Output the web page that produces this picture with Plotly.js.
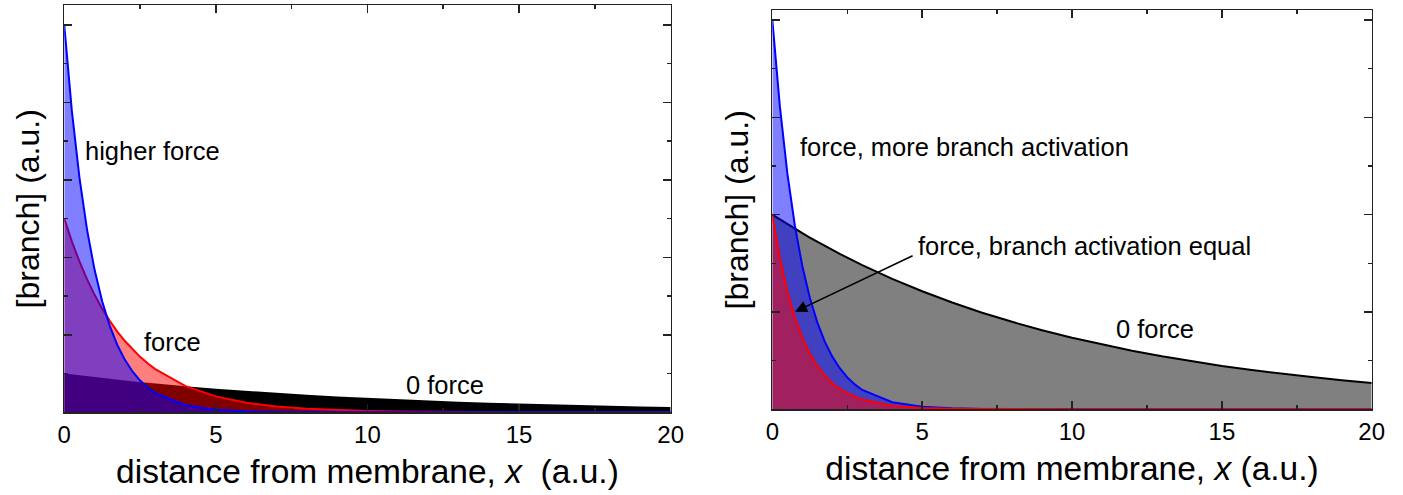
<!DOCTYPE html>
<html>
<head>
<meta charset="utf-8">
<script src="https://cdn.plot.ly/plotly-3.0.1.min.js"></script>
<style>
  html, body { margin: 0; padding: 0; background: #fff; }
  #chart { width: 1403px; height: 495px; }
</style>
</head>
<body>
<div id="chart"></div>
<script>
// distance from the membrane (a.u.)
const distance = [0, 0.25, 0.5, 0.75, 1, 1.25, 1.5, 1.75, 2, 2.25, 2.5, 2.75, 3,
                  4, 5, 6, 7, 8, 9, 10, 11, 12, 13, 14, 15, 16, 17, 18, 19, 20];

// left panel: branch density profiles
const leftZeroForce = [0.5, 0.488, 0.476, 0.464, 0.452, 0.441, 0.430, 0.420, 0.409, 0.399, 0.389, 0.380, 0.370,
                       0.335, 0.303, 0.274, 0.248, 0.225, 0.203, 0.184, 0.166, 0.151, 0.136, 0.123, 0.112,
                       0.101, 0.091, 0.083, 0.075, 0.068];
const leftForce = [2.5, 2.206, 1.947, 1.718, 1.516, 1.338, 1.181, 1.042, 0.920, 0.812, 0.716, 0.632, 0.558,
                   0.338, 0.205, 0.124, 0.075, 0.046, 0.028, 0.017, 0.010, 0.006, 0.004, 0.002, 0.001,
                   0.001, 0, 0, 0, 0];
const leftHigherForce = [5, 3.894, 3.033, 2.362, 1.839, 1.433, 1.116, 0.869, 0.677, 0.527, 0.410, 0.320, 0.249,
                         0.092, 0.034, 0.012, 0.005, 0.002, 0.001, 0, 0, 0, 0, 0, 0,
                         0, 0, 0, 0, 0];

// right panel: branch density profiles
const rightZeroForce = [2, 1.951, 1.902, 1.855, 1.810, 1.765, 1.721, 1.679, 1.637, 1.597, 1.558, 1.519, 1.482,
                        1.341, 1.213, 1.098, 0.993, 0.899, 0.813, 0.736, 0.666, 0.602, 0.545, 0.493, 0.446,
                        0.404, 0.365, 0.331, 0.299, 0.271];
const rightMoreActivation = [4, 3.115, 2.426, 1.889, 1.472, 1.146, 0.893, 0.695, 0.541, 0.422, 0.328, 0.256, 0.199,
                             0.073, 0.027, 0.010, 0.004, 0.001, 0, 0, 0, 0, 0, 0, 0,
                             0, 0, 0, 0, 0];
const rightEqualActivation = [2, 1.558, 1.213, 0.945, 0.736, 0.573, 0.446, 0.348, 0.271, 0.211, 0.164, 0.128, 0.100,
                              0.037, 0.013, 0.005, 0.002, 0.001, 0, 0, 0, 0, 0, 0, 0,
                              0, 0, 0, 0, 0];

const xTickVals = [0, 5, 10, 15, 20];
const xTickText = ['0', '5', '10', '15', '20'];

const FONT = 'Liberation Sans, Arial, Helvetica, sans-serif';
const AXIS_COLOR = '#222';

function area(x, y, xa, ya, fill, lineColor, lineWidth) {
  return {
    type: 'scatter', mode: 'lines', x: x, y: y, xaxis: xa, yaxis: ya,
    fill: 'tozeroy', fillcolor: fill,
    line: { color: lineColor, width: lineWidth, shape: 'linear' },
    hoverinfo: 'skip', showlegend: false
  };
}

const traces = [
  area(distance, leftZeroForce, 'x', 'y', 'rgb(0,0,0)', 'rgb(0,0,0)', 0),
  area(distance, leftForce, 'x', 'y', 'rgba(255,0,0,0.5)', 'rgb(255,0,0)', 2),
  area(distance, leftHigherForce, 'x', 'y', 'rgba(0,0,255,0.5)', 'rgb(0,0,255)', 2),
  area(distance, rightZeroForce, 'x2', 'y2', 'rgb(128,128,128)', 'rgb(0,0,0)', 2),
  area(distance, rightMoreActivation, 'x2', 'y2', 'rgba(0,0,255,0.5)', 'rgb(0,0,255)', 2),
  area(distance, rightEqualActivation, 'x2', 'y2', 'rgba(255,0,0,0.5)', 'rgb(255,0,0)', 2)
];

function xAxis(domain, anchor, titleText) {
  return {
    domain: domain, anchor: anchor, range: [0, 20],
    tickmode: 'array', tickvals: xTickVals, ticktext: xTickText,
    ticks: 'inside', ticklen: 8, tickwidth: 1.5, tickcolor: AXIS_COLOR,
    minor: { tickmode: 'linear', tick0: 0, dtick: 2.5, ticks: 'inside', ticklen: 4, tickwidth: 1.5, tickcolor: AXIS_COLOR },
    showline: true, linecolor: AXIS_COLOR, linewidth: 1.5, mirror: 'allticks',
    showgrid: false, zeroline: false,
    tickfont: { family: FONT, size: 24, color: '#000' },
    title: { text: titleText, font: { family: FONT, size: 33.5, color: '#000' }, standoff: 13 },
    fixedrange: true
  };
}

function yAxis(domain, anchor, top, standoff) {
  return {
    domain: domain, anchor: anchor, range: [0, top],
    tickmode: 'linear', tick0: 0, dtick: 1,
    ticks: 'inside', ticklen: 8, tickwidth: 1.5, tickcolor: AXIS_COLOR,
    minor: { tickmode: 'linear', tick0: 0, dtick: 0.5, ticks: 'inside', ticklen: 4, tickwidth: 1.5, tickcolor: AXIS_COLOR },
    showticklabels: false,
    showline: true, linecolor: AXIS_COLOR, linewidth: 1.5, mirror: 'allticks',
    showgrid: false, zeroline: false,
    title: { text: '[branch] (a.u.)', font: { family: FONT, size: 32, color: '#000' }, standoff: standoff },
    fixedrange: true
  };
}

const labelFont = { family: FONT, size: 25.5, color: '#000' };

function label(text, x, y, xa, ya) {
  return { text: text, x: x, y: y, xref: xa, yref: ya, xanchor: 'left', yanchor: 'middle',
           showarrow: false, font: labelFont };
}

const layout = {
  width: 1403, height: 495,
  margin: { l: 0, r: 0, t: 0, b: 0 },
  paper_bgcolor: '#fff', plot_bgcolor: '#fff',
  showlegend: false,
  xaxis: xAxis([0.0458, 0.4780], 'y', 'distance from membrane, <i>x</i>\u00a0 (a.u.)'),
  yaxis: yAxis([0.1671, 0.9893], 'x', 5.254, 13),
  xaxis2: xAxis([0.5505, 0.9777], 'y2', 'distance from membrane, <i>x</i> (a.u.)'),
  yaxis2: yAxis([0.1731, 0.9792], 'x2', 4.10, 12),
  annotations: [
    label('higher force', 0.62, 3.37, 'x', 'y'),
    label('force', 2.55, 0.91, 'x', 'y'),
    label('0 force', 11.2, 0.35, 'x', 'y'),
    label('force, more branch activation', 0.86, 2.70, 'x2', 'y2'),
    label('force, branch activation equal', 4.79, 1.68, 'x2', 'y2'),
    label('0 force', 11.4, 0.825, 'x2', 'y2'),
    {
      // arrow pointing from the "equal" label down to the red profile
      text: '', x: 0.757, y: 1.003, xref: 'x2', yref: 'y2',
      ax: 4.73, ay: 1.586, axref: 'x2', ayref: 'y2',
      showarrow: true, arrowhead: 2, arrowsize: 1.5, arrowwidth: 1.6, arrowcolor: '#000',
      standoff: 0, startstandoff: 0
    }
  ]
};

Plotly.newPlot('chart', traces, layout, { staticPlot: true, displayModeBar: false });
</script>
</body>
</html>
